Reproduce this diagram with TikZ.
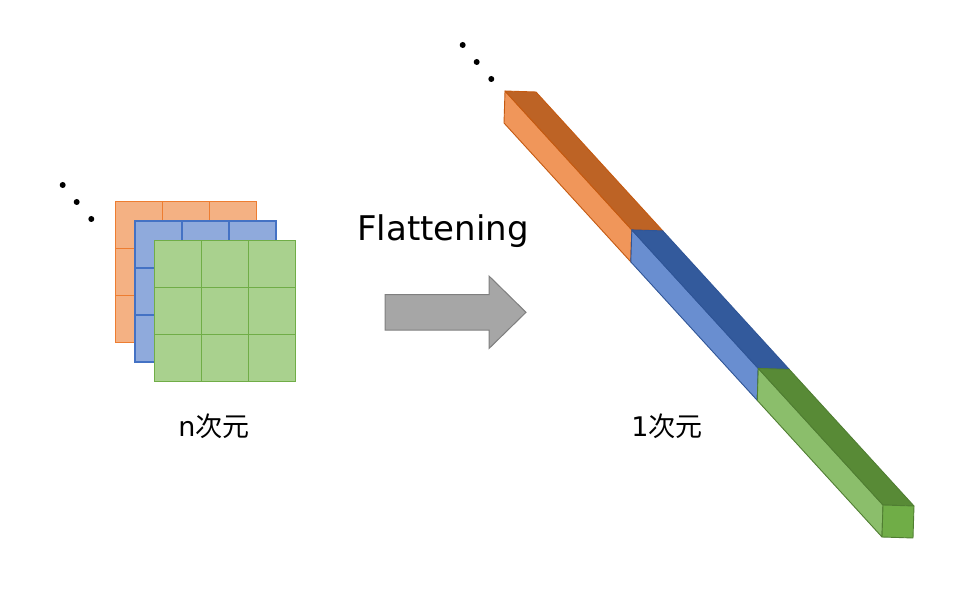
\documentclass[tikz,border=0pt]{standalone}
\usepackage{fontspec}
\setmainfont{Noto Sans CJK JP}
\newfontfamily\latinsans{DejaVu Sans}
\usetikzlibrary{calc}
\definecolor{ofill}{HTML}{F4B183}
\definecolor{oline}{HTML}{ED7D31}
\definecolor{bfill}{HTML}{8FAADC}
\definecolor{bline}{HTML}{4472C4}
\definecolor{gfill}{HTML}{A9D18E}
\definecolor{gline}{HTML}{70AD47}
\definecolor{olight}{HTML}{F0965A}
\definecolor{odark}{HTML}{BD6325}
\definecolor{oedge}{HTML}{C55A11}
\definecolor{blight}{HTML}{698ED0}
\definecolor{bdark}{HTML}{335A9C}
\definecolor{bedge}{HTML}{2F5597}
\definecolor{glight}{HTML}{8BBE6B}
\definecolor{gdark}{HTML}{588A36}
\definecolor{gcap}{HTML}{70AD47}
\definecolor{gedge}{HTML}{507E32}
\definecolor{arrfill}{HTML}{A6A6A6}
\definecolor{arrline}{HTML}{7F7F7F}
\tikzset{
  gridsq/.style={line width=1.6pt},
  dotmark/.style={circle,fill=black,inner sep=0pt,minimum size=6pt},
  lbl/.style={font=\fontsize{27}{30}\selectfont, inner sep=0pt},
  segface/.style={line width=0.9pt, line join=round}
}
% #1 start t, #2 end t, #3 light, #4 dark, #5 cap, #6 edge
\newcommand\barseg[6]{%
  \fill[#3] ($(bA)+#1*(bd)$) -- ($(bA)+#2*(bd)$) -- ($(bC)+#2*(bd)$) -- ($(bC)+#1*(bd)$) -- cycle;
  \draw[segface,#6] ($(bA)+#1*(bd)$) -- ($(bA)+#2*(bd)$) -- ($(bC)+#2*(bd)$) -- ($(bC)+#1*(bd)$) -- cycle;
  \fill[#4] ($(bA)+#1*(bd)$) -- ($(bB)+#1*(bd)$) -- ($(bB)+#2*(bd)$) -- ($(bA)+#2*(bd)$) -- cycle;
  \draw[segface,#6] ($(bA)+#1*(bd)$) -- ($(bB)+#1*(bd)$) -- ($(bB)+#2*(bd)$) -- ($(bA)+#2*(bd)$) -- cycle;
  \fill[#5] ($(bA)+#2*(bd)$) -- ($(bB)+#2*(bd)$) -- ($(bD)+#2*(bd)$) -- ($(bC)+#2*(bd)$) -- cycle;
  \draw[segface,#6] ($(bA)+#2*(bd)$) -- ($(bB)+#2*(bd)$) -- ($(bD)+#2*(bd)$) -- ($(bC)+#2*(bd)$) -- cycle;
}
\begin{document}
\begin{tikzpicture}[x=1pt,y=-1pt]
\useasboundingbox (0,0) rectangle (972,596);
% grids
\draw[gridsq,oline,fill=ofill] (115.5,201.5) rectangle (256.5,342.5);
\draw[gridsq,oline] (162.5,201.5) -- (162.5,342.5) (209.5,201.5) -- (209.5,342.5)
  (115.5,248.5) -- (256.5,248.5) (115.5,295.5) -- (256.5,295.5);
\draw[gridsq,bline,fill=bfill] (135,221) rectangle (276,362);
\draw[gridsq,bline] (182,221) -- (182,362) (229,221) -- (229,362)
  (135,268) -- (276,268) (135,315) -- (276,315);
\draw[gridsq,gline,fill=gfill] (154.5,240.5) rectangle (295.5,381.5);
\draw[gridsq,gline] (201.5,240.5) -- (201.5,381.5) (248.5,240.5) -- (248.5,381.5)
  (154.5,287.5) -- (295.5,287.5) (154.5,334.5) -- (295.5,334.5);
% dots left
\node[dotmark] (ld1) at (62.7,185) {};
\node[dotmark] (ld2) at (76.7,202) {};
\node[dotmark] (ld3) at (91.3,219) {};
% labels
\node[lbl] (nlabel) at (214,426) {{\latinsans n}次元};
\node[font=\latinsans\fontsize{34}{40}\selectfont, inner sep=0pt] (flat) at (443,231) {Flattening};
\node[lbl] (onelabel) at (667,426) {{\latinsans 1}次元};
% arrow
\draw[line width=1pt, arrline, fill=arrfill, line join=miter]
  (385,294.5) -- (489,294.5) -- (489,276) -- (526,312.3) -- (489,348.5) -- (489,330) -- (385,330) -- cycle;
% bar
\coordinate (bA) at (505,91);
\coordinate (bB) at (536,92);
\coordinate (bC) at (504,123);
\coordinate (bD) at (535,124);
\coordinate (bd) at (378,414);
\barseg{0}{0.3355}{olight}{odark}{odark}{oedge}
\barseg{0.3355}{0.67}{blight}{bdark}{bdark}{bedge}
\barseg{0.67}{1}{glight}{gdark}{gcap}{gedge}
% dots bar
\node[dotmark] (rd1) at (462.7,45) {};
\node[dotmark] (rd2) at (476.7,62) {};
\node[dotmark] (rd3) at (491.3,79) {};
\end{tikzpicture}
\end{document}
